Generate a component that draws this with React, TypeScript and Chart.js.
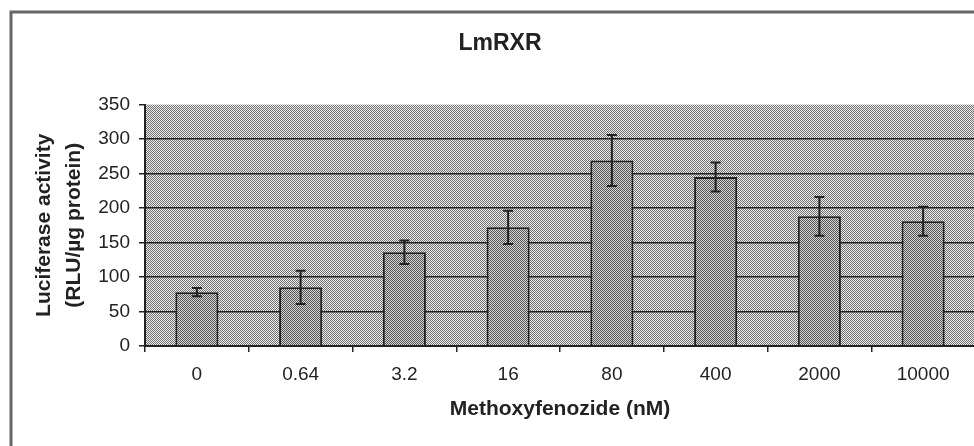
import React, { useEffect, useRef } from 'react';
import { Chart, registerables } from 'chart.js';

Chart.register(...registerables);

const categories = ['0', '0.64', '3.2', '16', '80', '400', '2000', '10000'];
const activity = [78, 85, 136, 172, 269, 245, 188, 181];
const errors = [6, 24, 17, 24, 37, 21, 28, 21];
const yMin = 0;
const yMax = 350;
const yStep = 50;
const chartTitle = 'LmRXR';
const xTitle = 'Methoxyfenozide (nM)';
const yTitle = ['Luciferase activity', '(RLU/µg protein)'];

const FONT = "'Liberation Sans', Arial, sans-serif";
const INK = '#222';

function makePattern(dark: string, light: string) {
  const c = document.createElement('canvas');
  c.width = 2;
  c.height = 2;
  const g = c.getContext('2d')!;
  g.fillStyle = light;
  g.fillRect(0, 0, 2, 2);
  g.fillStyle = dark;
  g.fillRect(0, 0, 1, 1);
  g.fillRect(1, 1, 1, 1);
  return g.createPattern(c, 'repeat')!;
}

export default function App() {
  const ref = useRef<HTMLCanvasElement | null>(null);

  useEffect(() => {
    const canvas = ref.current;
    if (!canvas) return;
    const bgPattern = makePattern('#727272', '#ececec');
    const barPattern = makePattern('#555555', '#d6d6d6');

    const framePlugin = {
      id: 'frameAndBackground',
      beforeDraw(chart: any) {
        const { ctx, chartArea } = chart;
        ctx.save();
        ctx.fillStyle = '#ffffff';
        ctx.fillRect(0, 0, chart.width, chart.height);
        ctx.strokeStyle = '#666666';
        ctx.lineWidth = 3;
        ctx.strokeRect(11, 12, chart.width + 40, chart.height + 40);
        ctx.fillStyle = bgPattern;
        ctx.fillRect(chartArea.left, chartArea.top, chartArea.right - chartArea.left, chartArea.bottom - chartArea.top);
        ctx.restore();
      },
    };

    const errorBarPlugin = {
      id: 'errorBars',
      afterDatasetsDraw(chart: any) {
        const { ctx } = chart;
        const yScale = chart.scales.y;
        const meta = chart.getDatasetMeta(0);
        ctx.save();
        ctx.strokeStyle = INK;
        ctx.lineWidth = 2;
        meta.data.forEach((bar: any, i: number) => {
          const x = bar.x;
          const top = yScale.getPixelForValue(activity[i] + errors[i]);
          const bottom = yScale.getPixelForValue(activity[i] - errors[i]);
          const cap = 5;
          ctx.beginPath();
          ctx.moveTo(x, top);
          ctx.lineTo(x, bottom);
          ctx.moveTo(x - cap, top);
          ctx.lineTo(x + cap, top);
          ctx.moveTo(x - cap, bottom);
          ctx.lineTo(x + cap, bottom);
          ctx.stroke();
        });
        ctx.restore();
      },
    };

    const chart = new Chart(canvas, {
      type: 'bar',
      data: {
        labels: categories,
        datasets: [
          {
            data: activity,
            backgroundColor: barPattern as any,
            borderColor: INK,
            borderWidth: 2,
            categoryPercentage: 1,
            barPercentage: 0.415,
          },
        ],
      },
      options: {
        responsive: false,
        animation: false,
        layout: { padding: { left: 25, right: 25, top: 10, bottom: 0 } },
        plugins: {
          legend: { display: false },
          tooltip: { enabled: false },
          title: {
            display: true,
            text: chartTitle,
            color: INK,
            font: { family: FONT, size: 23, weight: 'bold' },
            padding: { top: 20, bottom: 47 },
          },
        },
        scales: {
          x: {
            grid: {
              display: true,
              drawOnChartArea: false,
              drawTicks: true,
              tickLength: 6,
              offset: true,
              color: INK,
              lineWidth: 1.5,
            },
            border: { display: true, color: INK, width: 2 },
            ticks: {
              color: INK,
              font: { family: FONT, size: 19 },
              padding: 11,
              maxRotation: 0,
              autoSkip: false,
            },
            title: {
              display: true,
              text: xTitle,
              color: INK,
              font: { family: FONT, size: 21, weight: 'bold' },
              padding: { top: 0, bottom: 38 },
            },
          },
          y: {
            min: yMin,
            max: yMax,
            ticks: {
              stepSize: yStep,
              color: INK,
              font: { family: FONT, size: 19 },
              padding: 9,
            },
            grid: {
              color: (c: any) => (c.tick && c.tick.value === yMax ? 'rgba(0,0,0,0)' : INK),
              tickColor: INK,
              lineWidth: 1.5,
              tickLength: 6,
            },
            border: { display: true, color: INK, width: 2 },
            title: {
              display: true,
              text: yTitle,
              color: INK,
              font: { family: FONT, size: 21, weight: 'bold', lineHeight: 1.4 },
              padding: { top: 5, bottom: 0 },
            },
            afterFit: (s: any) => {
              s.width = 120;
            },
          },
        },
      },
      plugins: [framePlugin, errorBarPlugin],
    } as any);

    return () => chart.destroy();
  }, []);

  return (
    <div
      style={{
        position: 'fixed',
        left: 0,
        top: 0,
        width: 974,
        height: 446,
        overflow: 'hidden',
        background: '#fff',
      }}
    >
      <canvas ref={ref} width={1000} height={460} style={{ width: 1000, height: 460, display: 'block' }} />
    </div>
  );
}
